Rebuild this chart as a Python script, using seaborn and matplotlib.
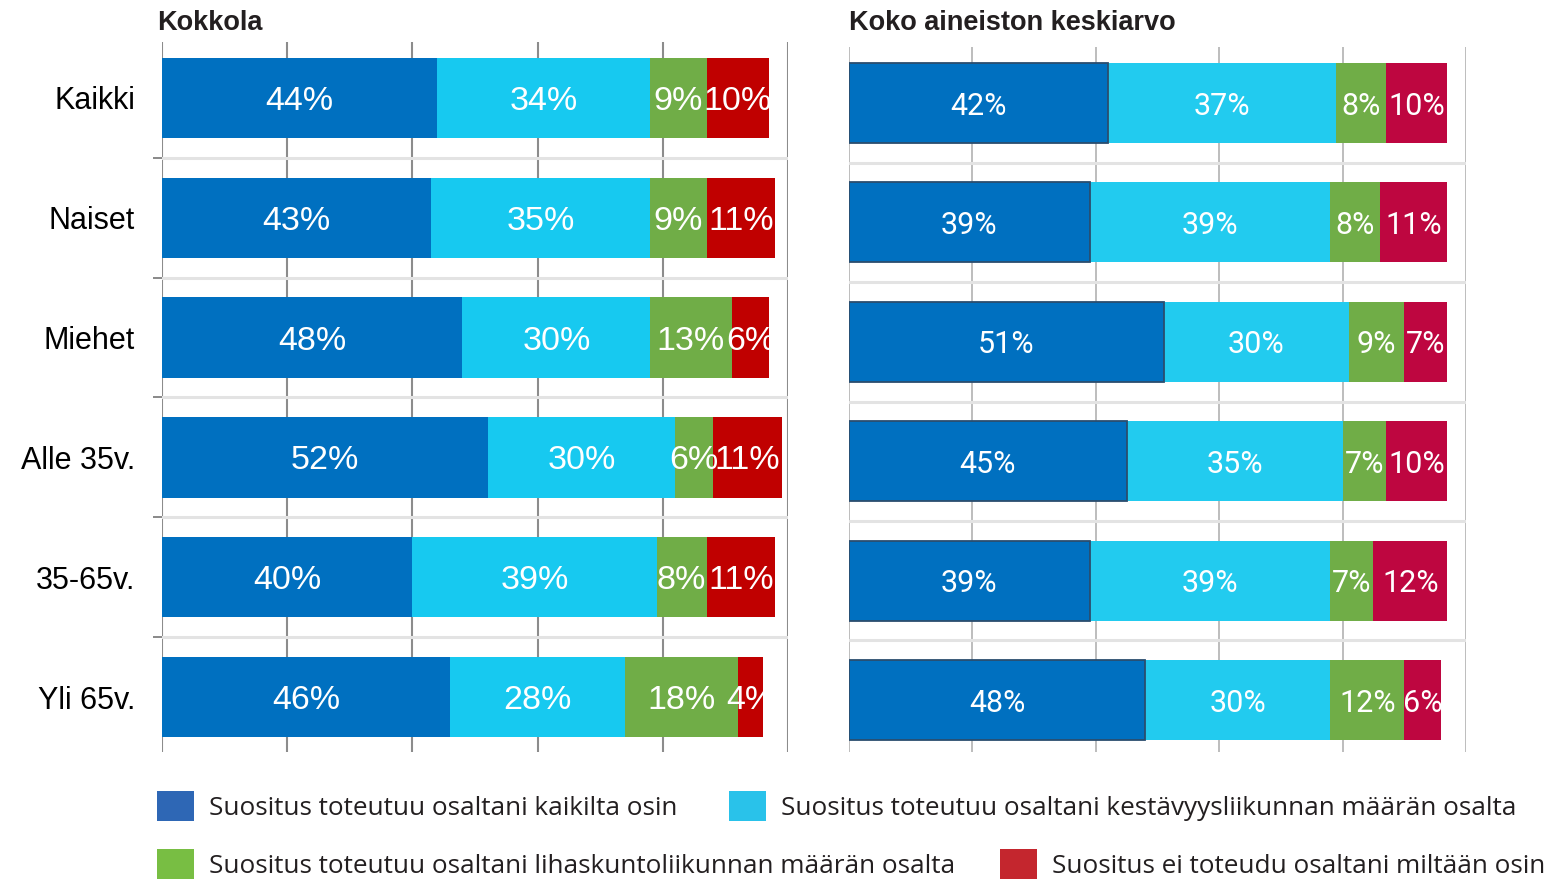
import numpy as np
import pandas as pd
import matplotlib
matplotlib.use("Agg")
import matplotlib.pyplot as plt
from matplotlib.patches import Patch
from matplotlib.transforms import TransformedBbox
import seaborn as sns

# ---------------- data ----------------
categories = ["Kaikki", "Naiset", "Miehet", "Alle 35v.", "35-65v.", "Yli 65v."]
series_names = [
    "Suositus toteutuu osaltani kaikilta osin",
    "Suositus toteutuu osaltani kestävyysliikunnan määrän osalta",
    "Suositus toteutuu osaltani lihaskuntoliikunnan määrän osalta",
    "Suositus ei toteudu osaltani miltään osin",
]
panel_titles = ["Kokkola", "Koko aineiston keskiarvo"]

kokkola_kaikilta = [44, 43, 48, 52, 40, 46]
kokkola_kestavyys = [34, 35, 30, 30, 39, 28]
kokkola_lihaskunto = [9, 9, 13, 6, 8, 18]
kokkola_ei = [10, 11, 6, 11, 11, 4]

koko_kaikilta = [42, 39, 51, 45, 39, 48]
koko_kestavyys = [37, 39, 30, 35, 39, 30]
koko_lihaskunto = [8, 8, 9, 7, 7, 12]
koko_ei = [10, 11, 7, 10, 12, 6]

grid_ticks = [0, 20, 40, 60, 80, 100]

# ---------------- style ----------------
sns.set_theme(style="white")
plt.rcParams["font.family"] = ["Liberation Sans", "DejaVu Sans"]

W, H = 1550, 881
fig = plt.figure(figsize=(W / 100, H / 100), dpi=100)


def fx(px):
    return px / W


def fy(py):
    return 1 - py / H


left_colors = ["#0070c0", "#17c9f0", "#70ad47", "#c00000"]
right_colors = ["#0070c0", "#22cbef", "#70ad47", "#be0640"]
legend_colors = ["#2e67b5", "#29c2ea", "#78be43", "#c4262e"]


def draw_panel(ax, series, colors, label_family, label_size, first_edge,
               grid_color, grid_lw, ylim):
    vals = np.array(series, dtype=float)
    cum = np.cumsum(vals, axis=0)
    conts = []
    for i in range(len(series) - 1, -1, -1):
        df = pd.DataFrame({"cat": categories, "val": cum[i]})
        if i == 0 and first_edge is not None:
            kw = dict(edgecolor=first_edge, linewidth=1.3)
        else:
            kw = dict(edgecolor="none", linewidth=0)
        sns.barplot(data=df, x="val", y="cat", orient="h", order=categories,
                    color=colors[i], saturation=1, width=0.67, errorbar=None,
                    ax=ax, zorder=2, **kw)
        conts.append((i, ax.containers[-1]))
    for i, cont in conts:
        starts = cum[i] - vals[i]
        for j, rect in enumerate(cont.patches):
            v = series[i][j]
            t = ax.text(starts[j] + v / 2, j, f"{v}%", ha="center",
                        va="center_baseline", color="white",
                        family=label_family, fontsize=label_size, zorder=5)
            t.set_clip_box(TransformedBbox(rect.get_bbox(), ax.transData))
    ax.set_xlim(0, 100)
    ax.set_ylim(*ylim)
    ax.set_xticks(grid_ticks)
    ax.set_xticklabels([])
    ax.tick_params(axis="x", length=0)
    ax.grid(axis="x", color=grid_color, lw=grid_lw)
    ax.grid(axis="y", visible=False)
    ax.set_axisbelow(True)
    for s in ax.spines.values():
        s.set_visible(False)
    for k in range(len(categories) - 1):
        ax.axhline(k + 0.5, color="#e3e3e3", lw=2.2, zorder=1)
    ax.set_xlabel("")
    ax.set_ylabel("")


# left panel
axL = fig.add_axes([fx(162), fy(752), fx(788) - fx(162), (752 - 42) / H])
draw_panel(axL, [kokkola_kaikilta, kokkola_kestavyys, kokkola_lihaskunto, kokkola_ei],
           left_colors, ["Liberation Sans", "DejaVu Sans"], 24.5, None,
           "#8c8c8c", 1.5, (5.459, -0.467))
axL.set_yticks(range(len(categories)))
axL.set_yticklabels(categories, fontsize=22, color="black")
axL.set_yticks([k + 0.5 for k in range(len(categories) - 1)], minor=True)
axL.tick_params(axis="y", which="major", length=0, pad=19.5)
axL.tick_params(axis="y", which="minor", left=True, length=6.5, width=1.3,
                color="#808080", direction="out")

# right panel
axR = fig.add_axes([fx(849), fy(752), fx(1466) - fx(849), (752 - 47) / H])
draw_panel(axR, [koko_kaikilta, koko_kestavyys, koko_lihaskunto, koko_ei],
           right_colors, ["Roboto", "DejaVu Sans"], 22, "#2b4d6e",
           "#b8b8b8", 1.3, (5.435, -0.469))
axR.set_yticks([])

# titles
fig.text(fx(157), fy(30), panel_titles[0], fontsize=19.5, fontweight="bold",
         color="#231f20", va="baseline", ha="left")
fig.text(fx(849), fy(30), panel_titles[1], fontsize=19.5, fontweight="bold",
         color="#231f20", va="baseline", ha="left")

# legend (two flowing rows)
legend_pos = [(157, 806), (729, 806), (157, 864), (1000, 864)]
for name, col, (px, py) in zip(series_names, legend_colors, legend_pos):
    fig.legend(handles=[Patch(facecolor=col, edgecolor="none", label=name)],
               loc="center left", bbox_to_anchor=(fx(px), fy(py)),
               frameon=False, borderpad=0, borderaxespad=0,
               handlelength=1.4, handleheight=1.4, handletextpad=0.6,
               labelcolor="#231f20",
               prop=dict(family=["Open Sans", "DejaVu Sans"], size=18.8))

fig.savefig("out.png", dpi=100)
